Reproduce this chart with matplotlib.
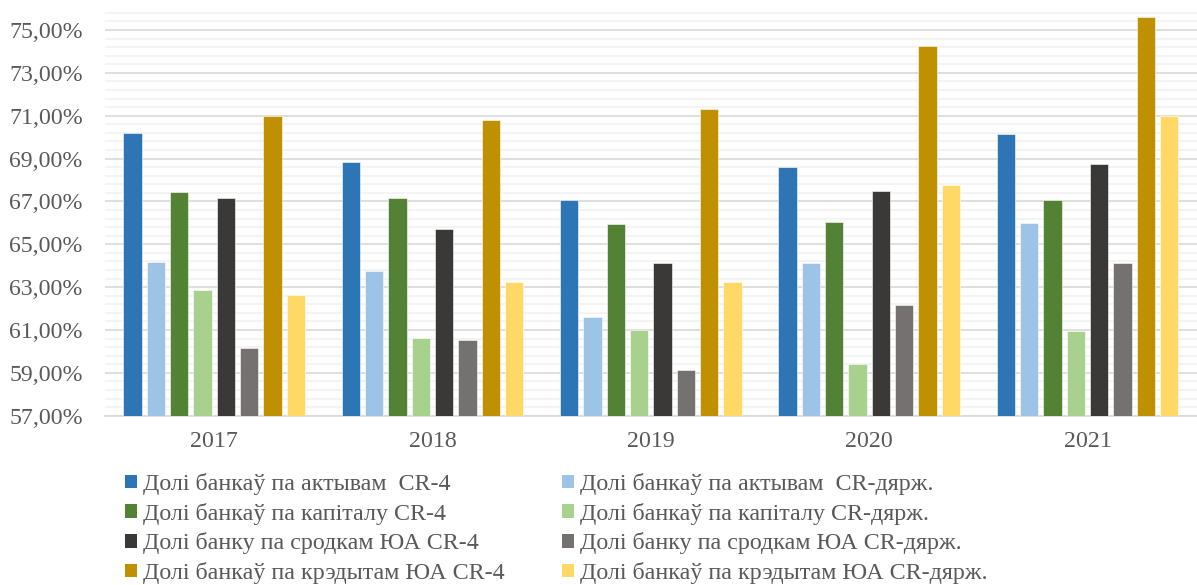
import numpy as np
import matplotlib
matplotlib.use('Agg')
import matplotlib.pyplot as plt
from matplotlib.patches import Patch
from matplotlib.ticker import FixedLocator, FuncFormatter

years = ['2017', '2018', '2019', '2020', '2021']
series_names = [
    'Долі банкаў па актывам  CR-4',
    'Долі банкаў па актывам  CR-дярж.',
    'Долі банкаў па капіталу CR-4',
    'Долі банкаў па капіталу CR-дярж.',
    'Долі банку па сродкам ЮА CR-4',
    'Долі банку па сродкам ЮА CR-дярж.',
    'Долі банкаў па крэдытам ЮА CR-4',
    'Долі банкаў па крэдытам ЮА CR-дярж.',
]
assets_cr4 = [70.17, 68.82, 67.06, 68.62, 70.14]
assets_state = [64.17, 63.73, 61.60, 64.12, 65.99]
capital_cr4 = [67.42, 67.14, 65.96, 66.02, 67.08]
capital_state = [62.85, 60.64, 61.01, 59.43, 60.93]
funds_cr4 = [67.14, 65.71, 64.14, 67.47, 68.76]
funds_state = [60.17, 60.53, 59.13, 62.16, 64.11]
credits_cr4 = [70.98, 70.79, 71.29, 74.25, 75.60]
credits_state = [62.61, 63.22, 63.24, 67.75, 70.98]
series_values = [assets_cr4, assets_state, capital_cr4, capital_state,
                 funds_cr4, funds_state, credits_cr4, credits_state]
colors = ['#2E75B6', '#9DC3E6', '#548235', '#A9D18E',
          '#3B3838', '#767171', '#BF9000', '#FFD966']

plt.rcParams['font.family'] = ['Liberation Serif', 'DejaVu Serif']
text_color = '#595959'

fig = plt.figure(figsize=(11.97, 5.85), dpi=100)
ax = fig.add_axes([0.0877, 0.2894, 0.912, 0.6942])

x = np.arange(len(years))
pitch = 0.1068
width = 0.084
for i, (vals, c) in enumerate(zip(series_values, colors)):
    pos = x + (i - 3.5) * pitch
    ax.bar(pos, np.array(vals) - 57, bottom=57, width=width, color=c,
           edgecolor='white', linewidth=0.4, zorder=3)

ax.set_xlim(-0.5, len(years) - 0.5)
ax.set_ylim(57, 75.95)
ax.yaxis.set_major_locator(FixedLocator(np.arange(57, 75.5, 2)))
ax.yaxis.set_minor_locator(FixedLocator(np.arange(57, 75.9, 0.4)))
ax.yaxis.set_major_formatter(FuncFormatter(lambda v, p: f'{v:.2f}%'.replace('.', ',')))
ax.grid(axis='y', which='minor', color='#F2F2F2', linewidth=1.2, zorder=0)
ax.grid(axis='y', which='major', color='#D9D9D9', linewidth=1.2, zorder=1)
ax.set_xticks(x)
ax.set_xticklabels(years)
ax.tick_params(axis='both', which='both', length=0, labelsize=17.2, colors=text_color)
ax.tick_params(axis='x', pad=11)
ax.tick_params(axis='y', pad=16)
for s in ['top', 'right', 'left']:
    ax.spines[s].set_visible(False)
ax.spines['bottom'].set_color('#D9D9D9')
ax.spines['bottom'].set_linewidth(1.2)

handles = [Patch(facecolor=c, label=n) for c, n in zip(colors, series_names)]
order = [0, 2, 4, 6, 1, 3, 5, 7]
leg = fig.legend([handles[i] for i in order], [series_names[i] for i in order],
                 ncol=2, loc='upper left', bbox_to_anchor=(125 / 1197, 1 - 473 / 585),
                 frameon=False, fontsize=17.3, handlelength=0.5, handleheight=0.5,
                 handletextpad=0.25, labelspacing=0.32, columnspacing=2.4, borderpad=0,
                 borderaxespad=0)
for t in leg.get_texts():
    t.set_color(text_color)

fig.savefig('out.png', dpi=100)
